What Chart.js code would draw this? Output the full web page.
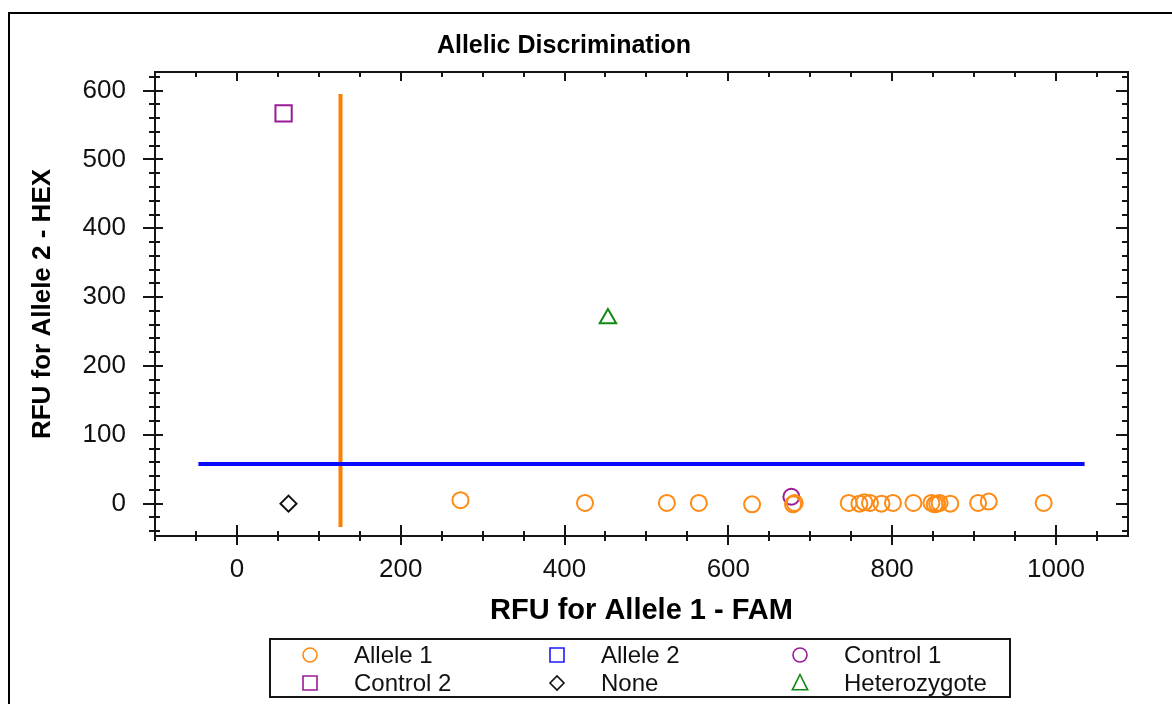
<!DOCTYPE html>
<html>
<head>
<meta charset="utf-8">
<title>Allelic Discrimination</title>
<script src="https://cdn.jsdelivr.net/npm/chart.js@4"></script>
<style>
  html, body { margin: 0; padding: 0; background: #fff; overflow: hidden; }
  #wrap { position: relative; width: 1172px; height: 704px; }
  #frame { position: absolute; left: 8px; top: 12px; width: 1300px; height: 900px; border: 2px solid #000; }
  #myChart { position: absolute; left: 0; top: 0; }
</style>
</head>
<body>
<div id="wrap">
  <div id="frame"></div>
  <canvas id="myChart" width="1172" height="704"></canvas>
</div>
<script>
// Data (RFU values)
const allele1X = [273, 425, 525, 564, 629, 679, 681, 747, 760, 766, 773, 787, 801, 826, 848, 852, 855, 858, 871, 905, 918, 985];
const allele1Y = [5, 1, 1, 1, -1, -1, 1, 1, 0, 2, 1, 0, 1, 1, 1, -1, 0, 1, 0, 1, 3, 1];
const allele2X = [];
const allele2Y = [];
const control1X = [677];
const control1Y = [10];
const control2X = [57];
const control2Y = [567];
const noneX = [63];
const noneY = [0];
const heteroX = [453];
const heteroY = [269];

// Threshold lines
const famThresholdX = [126.5, 126.5];
const famThresholdY = [-34, 595];
const hexThresholdX = [-47, 1035];
const hexThresholdY = [57.5, 57.5];

// Axis ranges and tick steps
const xRange = [-100, 1088];
const yRange = [-47, 627];
const xSteps = { major: 200, minor: 50 };
const ySteps = { major: 100, minor: 20 };

const FONT = '"Liberation Sans", Arial, sans-serif';

function toPoints(xs, ys) {
    return xs.map((v, i) => ({ x: v, y: ys[i] }));
}

// only the round major values get a label
function majorTicks(step) {
    return function(scale) {
        const ticks = [];
        for (let v = Math.ceil(scale.min / step) * step; v <= scale.max; v += step) {
            ticks.push({ value: v });
        }
        scale.ticks = ticks;
    };
}

// Series shown in the legend
const series = [
    { label: 'Allele 1', x: allele1X, y: allele1Y, color: '#ff8a14', style: 'circle', radius: 8 },
    { label: 'Allele 2', x: allele2X, y: allele2Y, color: '#1a1aff', style: 'rect', radius: 11.5 },
    { label: 'Control 1', x: control1X, y: control1Y, color: '#9a1a9a', style: 'circle', radius: 8 },
    { label: 'Control 2', x: control2X, y: control2Y, color: '#9a1a9a', style: 'rect', radius: 11.5 },
    { label: 'None', x: noneX, y: noneY, color: '#111111', style: 'rectRot', radius: 8 },
    { label: 'Heterozygote', x: heteroX, y: heteroY, color: '#118a11', style: 'triangle', radius: 9.5 }
];

const datasets = series.map(s => ({
    label: s.label,
    data: toPoints(s.x, s.y),
    pointStyle: s.style,
    pointRadius: s.radius,
    pointBorderWidth: 2,
    borderColor: s.color,
    backgroundColor: 'rgba(0,0,0,0)',
    pointBackgroundColor: 'rgba(0,0,0,0)',
    order: 2
}));

datasets.push({
    label: 'FAM threshold',
    data: toPoints(famThresholdX, famThresholdY),
    showLine: true,
    borderColor: '#ff8000',
    borderWidth: 4,
    borderCapStyle: 'butt',
    pointRadius: 0,
    order: 4
});
datasets.push({
    label: 'HEX threshold',
    data: toPoints(hexThresholdX, hexThresholdY),
    showLine: true,
    borderColor: '#0a0aff',
    borderWidth: 4,
    borderCapStyle: 'butt',
    pointRadius: 0,
    order: 3
});

// Small shape drawer for the legend markers
function drawMarker(ctx, style, x, y, r) {
    ctx.beginPath();
    if (style === 'circle') {
        ctx.arc(x, y, r, 0, Math.PI * 2);
    } else if (style === 'rect') {
        ctx.rect(x - r, y - r, r * 2, r * 2);
    } else if (style === 'rectRot') {
        ctx.moveTo(x - r, y);
        ctx.lineTo(x, y - r);
        ctx.lineTo(x + r, y);
        ctx.lineTo(x, y + r);
        ctx.closePath();
    } else if (style === 'triangle') {
        ctx.moveTo(x, y - r);
        ctx.lineTo(x + r * 0.9, y + r * 0.8);
        ctx.lineTo(x - r * 0.9, y + r * 0.8);
        ctx.closePath();
    }
    ctx.stroke();
}

// Plot frame with crossing tick marks on all four sides
const frameTicks = {
    id: 'frameTicks',
    afterDatasetsDraw(chart) {
        const { ctx, chartArea: a, scales: { x, y } } = chart;
        ctx.save();
        ctx.strokeStyle = '#151515';
        ctx.lineWidth = 2;
        ctx.strokeRect(Math.round(a.left), Math.round(a.top), Math.round(a.right - a.left), Math.round(a.bottom - a.top));
        ctx.beginPath();
        const x0 = Math.ceil(x.min / xSteps.minor) * xSteps.minor;
        for (let v = x0; v <= x.max; v += xSteps.minor) {
            const px = Math.round(x.getPixelForValue(v));
            const major = v % xSteps.major === 0;
            // bottom
            ctx.moveTo(px, a.bottom - (major ? 11 : 5));
            ctx.lineTo(px, a.bottom + (major ? 9 : 5));
            // top
            ctx.moveTo(px, a.top);
            ctx.lineTo(px, a.top + (major ? 9 : 5));
        }
        const y0 = Math.ceil(y.min / ySteps.minor) * ySteps.minor;
        for (let v = y0; v <= y.max; v += ySteps.minor) {
            const py = Math.round(y.getPixelForValue(v));
            const major = v % ySteps.major === 0;
            // left
            ctx.moveTo(a.left - (major ? 12 : 6), py);
            ctx.lineTo(a.left + (major ? 8 : 5), py);
            // right
            ctx.moveTo(a.right - (major ? 12 : 6), py);
            ctx.lineTo(a.right, py);
        }
        ctx.stroke();
        ctx.restore();
    }
};

// Boxed legend laid out in a 3 x 2 grid
const gridLegend = {
    id: 'gridLegend',
    afterDraw(chart) {
        const ctx = chart.ctx;
        const box = { left: 270, top: 639, width: 740, height: 58 };
        const colX = [310, 557, 800];
        const rowY = [655, 683];
        ctx.save();
        ctx.strokeStyle = '#151515';
        ctx.lineWidth = 2;
        ctx.strokeRect(box.left, box.top, box.width, box.height);
        ctx.font = '24px ' + FONT;
        ctx.textBaseline = 'middle';
        ctx.fillStyle = '#111';
        series.forEach((s, i) => {
            const cx = colX[i % 3];
            const cy = rowY[Math.floor(i / 3)];
            ctx.strokeStyle = s.color;
            ctx.lineWidth = 1.6;
            const r = s.style === 'rectRot' ? 7 : s.style === 'triangle' ? 8.5 : 7;
            drawMarker(ctx, s.style, cx, cy, r);
            ctx.fillText(s.label, cx + 44, cy + 1);
        });
        ctx.restore();
    }
};

document.addEventListener('DOMContentLoaded', function() {
    const ctx = document.getElementById('myChart').getContext('2d');
    new Chart(ctx, {
        type: 'scatter',
        data: { datasets: datasets },
        plugins: [frameTicks, gridLegend],
        options: {
            responsive: false,
            animation: false,
            layout: { autoPadding: false, padding: { left: 0, right: 44, top: 0, bottom: 68 } },
            plugins: {
                legend: { display: false },
                tooltip: { enabled: false },
                title: {
                    display: true,
                    text: 'Allelic Discrimination',
                    color: '#000',
                    font: { family: FONT, size: 25, weight: 'bold', lineHeight: 1.2 },
                    padding: { top: 31, bottom: 11 }
                }
            },
            scales: {
                x: {
                    type: 'linear',
                    min: xRange[0],
                    max: xRange[1],
                    grid: { display: false, drawTicks: false },
                    border: { display: false },
                    ticks: {
                        padding: 18,
                        maxRotation: 0,
                        autoSkip: false,
                        color: '#111',
                        font: { family: FONT, size: 26, lineHeight: 1.2 },
                        callback: v => String(v)
                    },
                    afterBuildTicks: majorTicks(xSteps.major),
                    title: {
                        display: true,
                        text: 'RFU for Allele 1 - FAM',
                        color: '#000',
                        padding: 8,
                        font: { family: FONT, size: 29, weight: 'bold', lineHeight: 1.2 }
                    },
                    afterFit: function(scale) { scale.height = 100; }
                },
                y: {
                    type: 'linear',
                    min: yRange[0],
                    max: yRange[1],
                    grid: { display: false, drawTicks: false },
                    border: { display: false },
                    ticks: {
                        padding: 29,
                        autoSkip: false,
                        color: '#111',
                        font: { family: FONT, size: 26, lineHeight: 1.2 },
                        callback: v => String(v)
                    },
                    afterBuildTicks: majorTicks(ySteps.major),
                    title: {
                        display: true,
                        text: 'RFU for Allele 2 - HEX',
                        color: '#000',
                        padding: 27,
                        font: { family: FONT, size: 26, weight: 'bold', lineHeight: 1.2 }
                    },
                    afterFit: function(scale) { scale.width = 155; }
                }
            }
        }
    });
});
</script>
</body>
</html>
